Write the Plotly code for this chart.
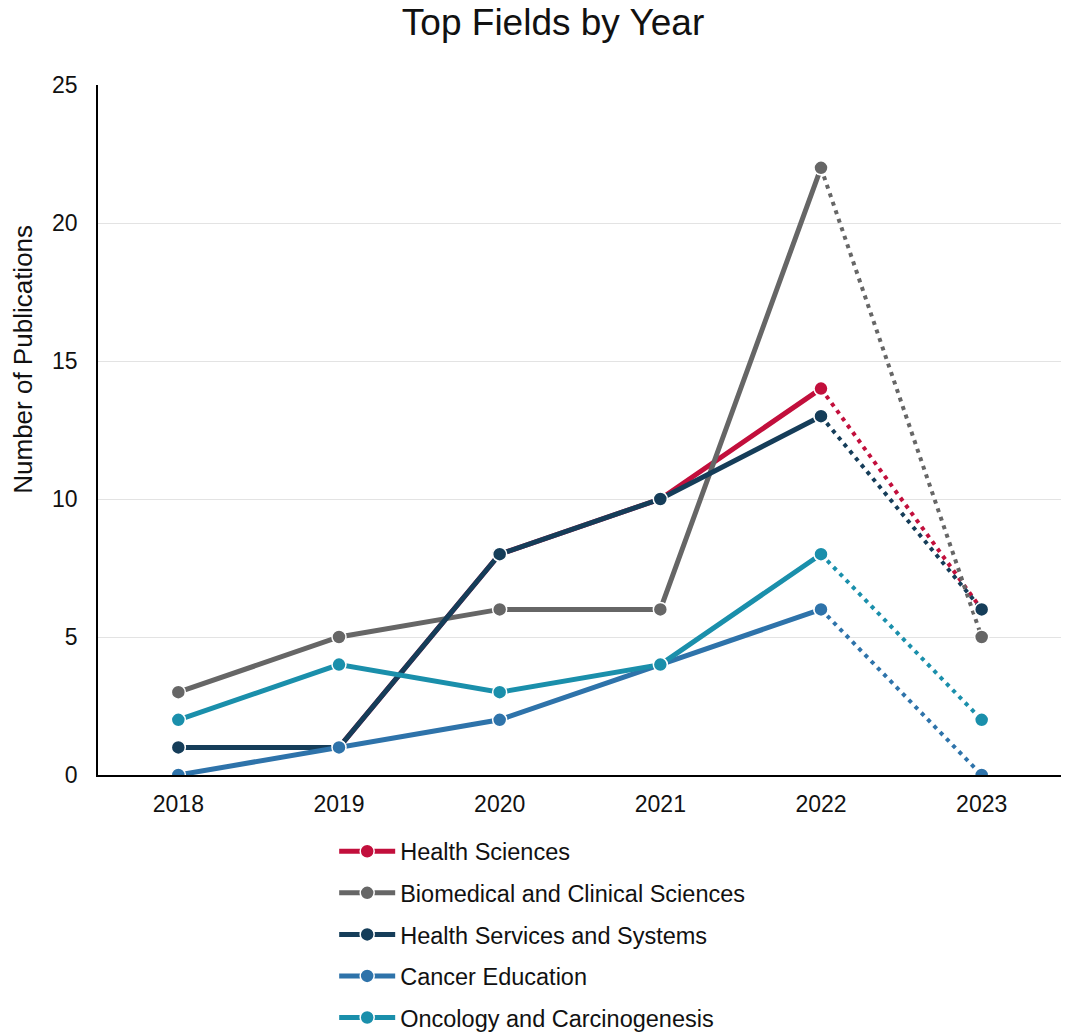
import plotly.graph_objects as go

years = [2018, 2019, 2020, 2021, 2022, 2023]
series_names = [
    "Health Sciences",
    "Biomedical and Clinical Sciences",
    "Health Services and Systems",
    "Cancer Education",
    "Oncology and Carcinogenesis",
]
health_sciences = [1, 1, 8, 10, 14, 6]
biomedical_clinical = [3, 5, 6, 6, 22, 5]
health_services = [1, 1, 8, 10, 13, 6]
cancer_education = [0, 1, 2, 4, 6, 0]
oncology = [2, 4, 3, 4, 8, 2]
y_title = "Number of Publications"
chart_title = "Top Fields by Year"

values = [health_sciences, biomedical_clinical, health_services, cancer_education, oncology]
colors = ["#C20F3C", "#666666", "#153D59", "#2E73AA", "#1A8FAB"]

fig = go.Figure()
for name, vals, col in zip(series_names, values, colors):
    fig.add_trace(go.Scatter(
        x=years[:5], y=vals[:5], name=name, legendgroup=name,
        mode="lines+markers",
        line=dict(color=col, width=5),
        marker=dict(size=14, color=col, line=dict(color="white", width=1.5)),
    ))
for name, vals, col in zip(series_names, values, colors):
    fig.add_trace(go.Scatter(
        x=years[4:], y=vals[4:], name=name, legendgroup=name, showlegend=False,
        mode="lines+markers",
        line=dict(color=col, width=4, dash="4px,5px"),
        marker=dict(size=14, color=col, line=dict(color="white", width=1.5)),
    ))

fig.add_annotation(
    text=y_title, xref="paper", yref="paper", x=-0.078, y=0.603,
    xanchor="center", yanchor="middle", textangle=-90, showarrow=False,
    font=dict(size=26, color="#111111"),
)

fig.update_layout(
    width=1061, height=1026,
    paper_bgcolor="white", plot_bgcolor="white",
    font=dict(family="Liberation Sans, Arial, sans-serif", color="#111111", size=23),
    title=dict(text=chart_title, x=0.5137, xanchor="center", y=0.986, yanchor="middle",
               yref="container", font=dict(size=37, color="#111111")),
    margin=dict(l=90, r=7, t=77, b=259, autoexpand=False),
    showlegend=True,
    legend=dict(orientation="v", x=0.245, xanchor="left", y=-0.079, yanchor="top",
                font=dict(size=23.5, color="#111111"), tracegroupgap=8,
                traceorder="grouped", itemwidth=56),
    xaxis=dict(range=[2017.5, 2023.5], tickmode="array", tickvals=years,
               ticktext=[str(y) for y in years], showgrid=False,
               showline=True, linecolor="#000000", linewidth=1.5,
               ticks="", ticklabelstandoff=8, tickfont=dict(size=23), zeroline=False),
    yaxis=dict(range=[0, 25], tick0=0, dtick=5, showgrid=True, gridcolor="#E3E3E3", gridwidth=1,
               showline=True, linecolor="#000000", linewidth=1.5, ticks="",
               ticklabelstandoff=14, tickfont=dict(size=23), zeroline=False),
)

fig.write_html("out.html")
